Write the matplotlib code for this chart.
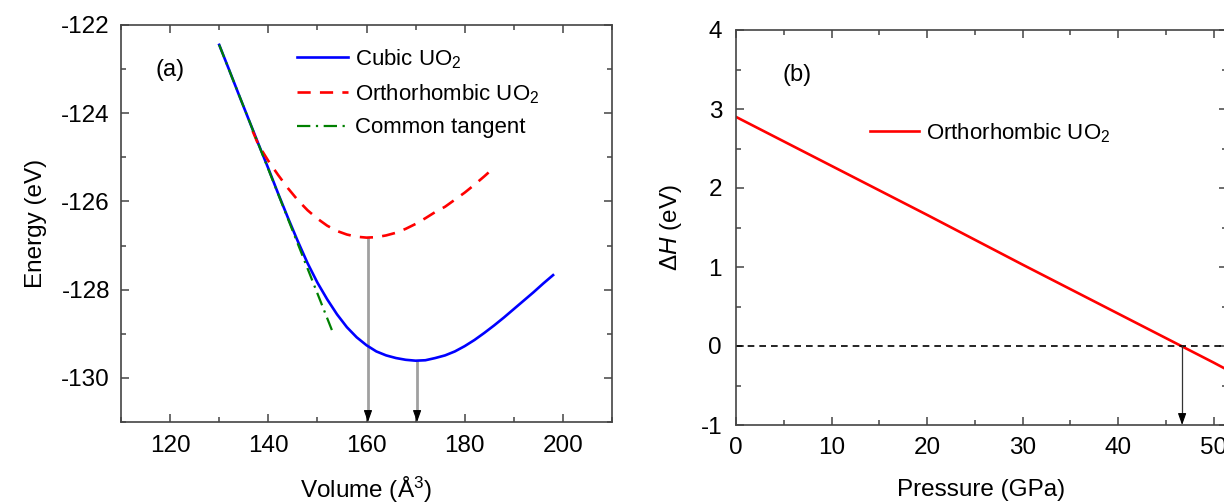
import numpy as np
import matplotlib
matplotlib.use("Agg")
import matplotlib.pyplot as plt

plt.rcParams['font.family'] = ['Liberation Sans', 'DejaVu Sans']
plt.rcParams['mathtext.fontset'] = 'custom'
plt.rcParams['mathtext.rm'] = 'Liberation Sans'
plt.rcParams['mathtext.it'] = 'Liberation Sans:italic'
plt.rcParams['mathtext.bf'] = 'Liberation Sans:bold'
plt.rcParams['axes.unicode_minus'] = False

# ---- panel (a): energy vs volume ----
vol_cubic = [130, 132, 134, 136, 138, 140, 142, 144, 146, 148, 150, 152, 154, 156, 158,
             160, 162, 164, 166, 168, 170, 172, 174, 176, 178, 180, 182, 184, 186, 188,
             190, 192, 194, 196, 198]
e_cubic = [-122.45, -123.01, -123.58, -124.14, -124.70, -125.25, -125.82, -126.37, -126.90,
           -127.40, -127.84, -128.22, -128.56, -128.85, -129.08, -129.26, -129.40, -129.49,
           -129.55, -129.59, -129.61, -129.60, -129.55, -129.49, -129.40, -129.28, -129.14,
           -128.98, -128.81, -128.63, -128.44, -128.25, -128.06, -127.86, -127.67]

vol_ortho = [136.8, 138, 140, 142, 144, 146, 148, 150, 152, 154, 156, 158, 160, 162, 164,
             166, 168, 170, 172, 174, 176, 178, 180, 182, 184, 185.2]
e_ortho = [-124.40, -124.72, -125.08, -125.40, -125.70, -125.97, -126.20, -126.39, -126.55,
           -126.67, -126.75, -126.80, -126.82, -126.81, -126.77, -126.71, -126.62, -126.51,
           -126.38, -126.24, -126.12, -125.96, -125.80, -125.62, -125.43, -125.31]

vol_tangent = [130, 153]
e_tangent = [-122.45, -128.93]

vol_min_ortho, e_min_ortho = 160.3, -126.82
vol_min_cubic, e_min_cubic = 170.3, -129.61

# ---- panel (b): enthalpy difference vs pressure ----
pressure = [0, 10, 20, 30, 40, 50, 51.4]
dH = [2.90, 2.28, 1.66, 1.03, 0.41, -0.21, -0.30]
p_transition = 46.7

W, H = 1224, 504
fig = plt.figure(figsize=(W / 100, H / 100), dpi=100)

spine_col = '#444444'
tick_fs = 17.5
label_fs = 17.5
leg_fs = 16


def style_axes(ax):
    for s in ax.spines.values():
        s.set_color(spine_col)
        s.set_linewidth(1.2)
    ax.tick_params(which='both', direction='in', top=True, right=True,
                   color=spine_col, width=1.1, labelsize=tick_fs)
    ax.tick_params(which='major', length=6)
    ax.tick_params(which='minor', length=3.5)
    ax.tick_params(axis='x', pad=9)


def head(ax, x, y_tip, y_from):
    # black arrow head only, the shaft is drawn separately
    ax.annotate('', xy=(x, y_tip), xytext=(x, y_from),
                arrowprops=dict(arrowstyle='-|>,head_length=0.7,head_width=0.25',
                                color='black', lw=0.8, shrinkA=0, shrinkB=0))


# panel (a)
ax1 = fig.add_axes([121 / W, 1 - 422 / H, (612 - 121) / W, (422 - 25) / H])
ax1.plot(vol_cubic, e_cubic, color='#0000ff', lw=1.9, label='Cubic UO$_2$')
ax1.plot(vol_ortho, e_ortho, color='#ff0000', lw=1.9, ls=(0, (5, 3.5)),
         label='Orthorhombic UO$_2$')
ax1.plot(vol_tangent, e_tangent, color='#008000', lw=1.6, ls=(0, (6, 2.5, 1, 2.5)),
         label='Common tangent', zorder=3)
for v, e in [(vol_min_ortho, e_min_ortho), (vol_min_cubic, e_min_cubic)]:
    ax1.plot([v, v], [e, -130.85], color='#a0a0a0', lw=2, zorder=1)
    head(ax1, v, -131, -130.8)
ax1.set_xlim(110, 210)
ax1.set_ylim(-131, -122)
ax1.set_xticks([120, 140, 160, 180, 200])
ax1.set_xticks(np.arange(110, 211, 10), minor=True)
ax1.set_yticks([-122, -124, -126, -128, -130])
ax1.set_yticks(np.arange(-131, -121, 1), minor=True)
style_axes(ax1)
ax1.tick_params(axis='y', pad=8)
ax1.set_xlabel('Volume (Å$^3$)', fontsize=label_fs, labelpad=13)
ax1.set_ylabel('Energy (eV)', fontsize=label_fs, labelpad=10)
fig.text(170 / W, 1 - 70 / H, '(a)', fontsize=17, ha='center', va='center')
ax1.legend(loc='upper left', bbox_to_anchor=(297 / W, 1 - 47 / H),
           bbox_transform=fig.transFigure, frameon=False, fontsize=leg_fs,
           handlelength=2.3, handletextpad=0.3, labelspacing=0.52,
           borderpad=0, borderaxespad=0)

# panel (b)
ax2 = fig.add_axes([736 / W, 1 - 425 / H, (1227 - 736) / W, (425 - 30) / H])
ax2.plot(pressure, dH, color='#ff0000', lw=1.9, label='Orthorhombic UO$_2$')
ax2.axhline(0, color='black', lw=1.2, ls=(0, (4, 3)))
ax2.plot([p_transition, p_transition], [0, -0.9], color='#333333', lw=0.9)
head(ax2, p_transition, -1, -0.9)
ax2.set_xlim(0, 51.4)
ax2.set_ylim(-1, 4)
ax2.set_xticks([0, 10, 20, 30, 40, 50])
ax2.set_xticks(np.arange(0, 51, 5), minor=True)
ax2.set_yticks([-1, 0, 1, 2, 3, 4])
ax2.set_yticks(np.arange(-1, 4.01, 0.5), minor=True)
style_axes(ax2)
ax2.tick_params(axis='y', pad=10)
ax2.set_xlabel('Pressure (GPa)', fontsize=label_fs, labelpad=14)
ax2.set_ylabel(r'$\Delta\mathit{H}$ (eV)', fontsize=label_fs, labelpad=12)
fig.text(797 / W, 1 - 75 / H, '(b)', fontsize=17, ha='center', va='center')
ax2.legend(loc='upper left', bbox_to_anchor=(870 / W, 1 - 121 / H),
           bbox_transform=fig.transFigure, frameon=False, fontsize=leg_fs,
           handlelength=2.2, handletextpad=0.3, borderpad=0, borderaxespad=0)

fig.savefig('out.png', dpi=100)
